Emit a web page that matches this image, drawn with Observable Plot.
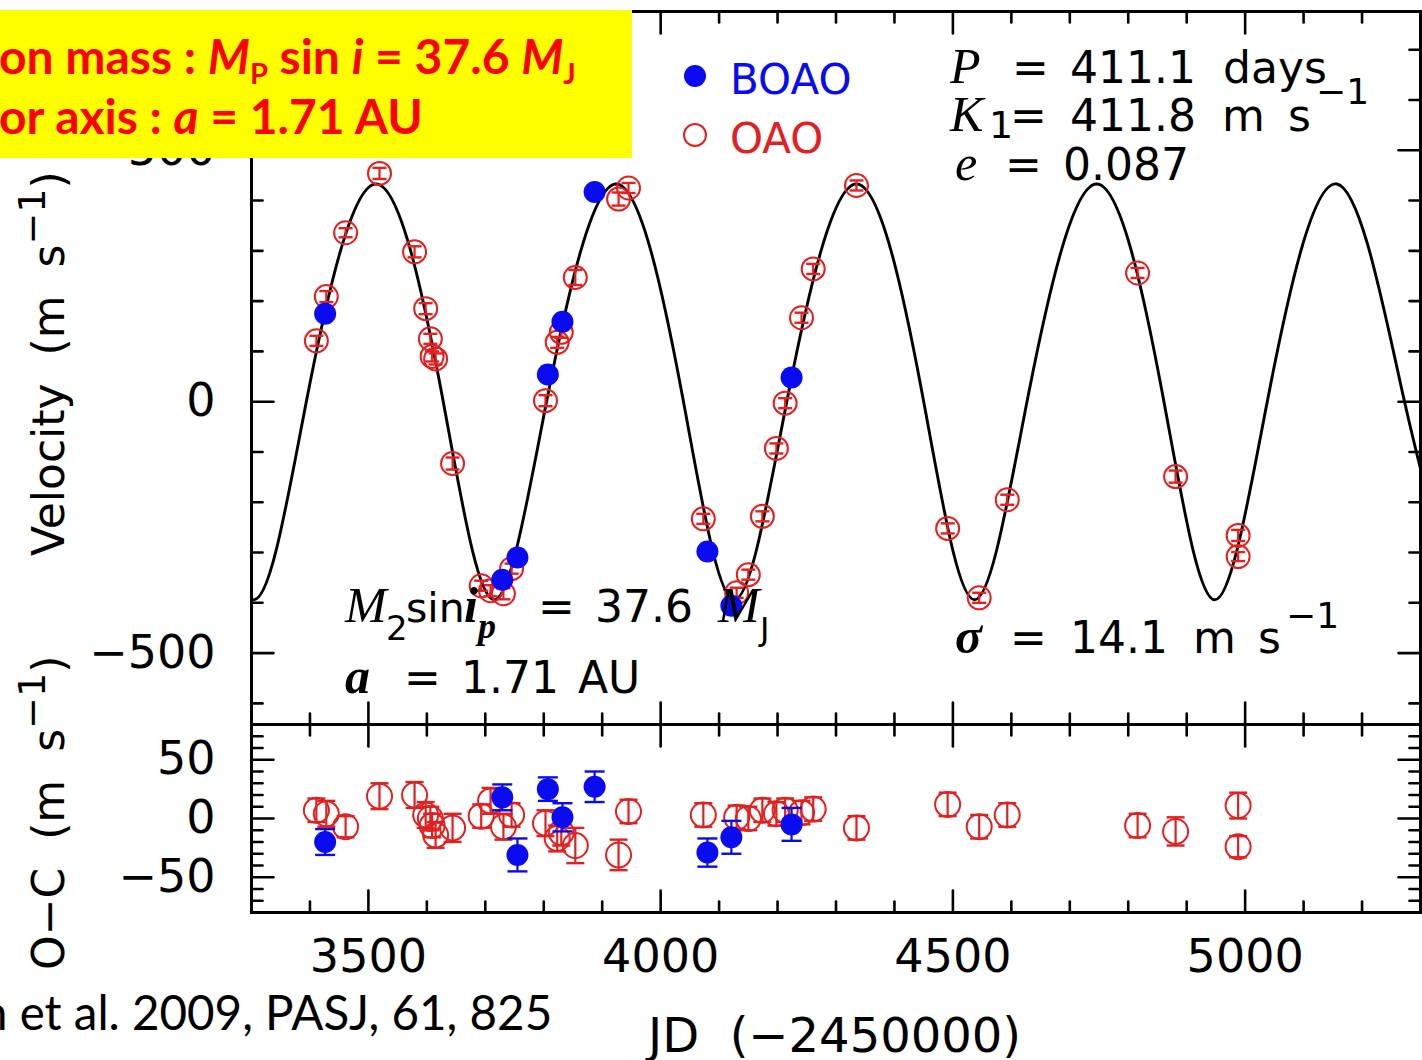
<!DOCTYPE html>
<html>
<head>
<meta charset="utf-8">
<script src="https://cdn.jsdelivr.net/npm/d3@7"></script>
<script src="https://cdn.jsdelivr.net/npm/@observablehq/plot@0.6"></script>
<style>
  html, body { margin: 0; padding: 0; background: #fff; }
  #wrap { position: relative; width: 1422px; height: 1060px; overflow: hidden; background: #fff; }
  #wrap > svg { position: absolute; left: 0; }
  .ann text { white-space: pre; }
</style>
</head>
<body>
<div id="wrap"></div>
<script>
// ---------------- data ----------------
// OAO (red open circles): JD-2450000, velocity, O-C residual, error (m/s)
const oaoJD  = [3411,3428,3461,3519,3579,3598,3606,3609,3615,3644,3693,3709,3731,3745,3803,3823,3830,3854,3928,3945,4073,4130,4150,4174,4198,4213,4241,4261,4335,4491,4545,4593,4816,4881,4988,4988];
const oaoRV  = [121,209,336,454,298,185,125,90,85,-123,-366,-376,-382,-332,2,118,138,247,403,425,-233,-380,-344,-228,-93,-3,167,264,430,-252,-390,-195,256,-149,-266,-308];
const oaoOC  = [7,4,-7,19,20,3,0,-6,-14,-8,2,15,-7,3,-4,-17,-12,-23,-31,6,3,1,0,7,4,7,5,8,-8,12,-7,3,-6,-11,11,-24];
const oaoErr = [10,11,9,11,11,11,10,10,11,12,10,11,11,10,11,11,11,15,13,10,10,10,10,10,10,10,10,10,10,10,10,10,10,12,11,9];

// BOAO (blue filled circles)
const boaoJD  = [3426,3729,3755,3807,3832,3887,4080,4121,4224];
const boaoRV  = [175,-354,-310,54,159,417,-298,-406,48];
const boaoOC  = [-20,18,-31,25,1,27,-29,-16,-5];
const boaoErr = [11,11,14,10,12,13,12,14,14];

// Orbital fit curve: extremes and mid-level crossings
const curveJD = [3214,3304,3397,3513,3625,3715,3808,3924,4036,4126,4219,4335,4447,4537,4630,4746,4858,4948,5041,5157,5269,5359];
const curveRV = [19,-394,19,433,19,-394,19,433,19,-394,19,433,19,-394,19,433,19,-394,19,433,19,-394];

// Axes
const xDomain = [3300, 5300];
const rvDomain = [-642, 776];
const ocDomain = [-80, 80];
const xMajor = [3500, 4000, 4500, 5000];
const xMinor = [3400,3600,3700,3800,3900,4100,4200,4300,4400,4600,4700,4800,4900,5100,5200];
const rvMajor = [-500, 0, 500];
const rvMinor = [-600,-400,-300,-200,-100,100,200,300,400,600,700];
const ocMajor = [-50, 0, 50];
const ocMinor = [-70,-60,-40,-30,-20,-10,10,20,30,40,60,70];

// ---------------- build ----------------
const RED = "#e3201f";
const BLUE = "#0b0bf2";
const AXFONT = "DejaVu Sans";

const oao = oaoJD.map((jd, i) => ({jd, v: oaoRV[i], oc: oaoOC[i], e: oaoErr[i]}));
const boao = boaoJD.map((jd, i) => ({jd, v: boaoRV[i], oc: boaoOC[i], e: boaoErr[i]}));
const curve = curveJD.map((jd, i) => ({jd, v: curveRV[i]}));

const capSymbol = {draw(ctx, size) { const w = Math.sqrt(size / Math.PI); ctx.moveTo(-w, 0); ctx.lineTo(w, 0); }};
const tickShape = {draw(ctx, l) { ctx.moveTo(0, 0); ctx.lineTo(0, -l); }};
const fmt = d => d < 0 ? "\u2212" + (-d) : String(d);

function frameTicks(xMaj, xMin, yMaj, yMin) {
  const T = (data, ch, anchor, rot, len) => Plot.vector(data, {
    [ch]: d => d, frameAnchor: anchor, rotate: rot, length: len, anchor: "start",
    shape: tickShape, stroke: "#000", strokeWidth: 2.6
  });
  return [
    T(xMaj, "x", "bottom", 0, 22), T(xMin, "x", "bottom", 0, 11),
    T(xMaj, "x", "top", 180, 22), T(xMin, "x", "top", 180, 11),
    T(yMaj, "y", "left", 90, 22), T(yMin, "y", "left", 90, 11),
    T(yMaj, "y", "right", -90, 22), T(yMin, "y", "right", -90, 11)
  ];
}

function pointMarks(data, yKey, capR, ringR) {
  const col = data === boao ? BLUE : RED;
  const y = d => d[yKey];
  return [
    Plot.ruleX(data, {x: "jd", y1: d => y(d) - d.e, y2: d => y(d) + d.e, stroke: col, strokeWidth: 2.2}),
    Plot.dot(data, {x: "jd", y: d => y(d) - d.e, symbol: capSymbol, r: capR, stroke: col, strokeWidth: 2.4, fill: "none"}),
    Plot.dot(data, {x: "jd", y: d => y(d) + d.e, symbol: capSymbol, r: capR, stroke: col, strokeWidth: 2.4, fill: "none"}),
    data === boao
      ? Plot.dot(data, {x: "jd", y: yKey, r: 11, fill: BLUE, stroke: "none"})
      : Plot.dot(data, {x: "jd", y: yKey, r: ringR, fill: "none", stroke: RED, strokeWidth: 2})
  ];
}

const topPlot = Plot.plot({
  width: 1422, height: 730,
  marginLeft: 251, marginRight: 2, marginTop: 11, marginBottom: 6,
  style: {background: "transparent", overflow: "visible"},
  x: {domain: xDomain, axis: null},
  y: {domain: rvDomain, axis: null},
  marks: [
    Plot.line(curve, {x: "jd", y: "v", curve: "natural", stroke: "#000", strokeWidth: 2.9, clip: true}),
    ...pointMarks(oao, "v", 7, 11.5),
    ...pointMarks(boao, "v", 7),
    Plot.frame({stroke: "#000", strokeWidth: 3}),
    ...frameTicks(xMajor, xMinor, rvMajor, rvMinor),
    Plot.axisY(rvMajor, {anchor: "left", label: null, tickSize: 0, tickPadding: 36, tickFormat: fmt, fontSize: 46, fontFamily: AXFONT, fill: "#000"})
  ]
});
topPlot.style.top = "0px";

const botPlot = Plot.plot({
  width: 1422, height: 292,
  marginLeft: 251, marginRight: 2, marginTop: 24, marginBottom: 80,
  style: {background: "transparent", overflow: "visible"},
  x: {domain: xDomain, axis: null},
  y: {domain: ocDomain, axis: null},
  marks: [
    ...pointMarks(oao, "oc", 9, 12.5),
    ...pointMarks(boao, "oc", 10),
    Plot.frame({stroke: "#000", strokeWidth: 3}),
    ...frameTicks(xMajor, xMinor, ocMajor, ocMinor),
    Plot.axisY(ocMajor, {anchor: "left", label: null, tickSize: 0, tickPadding: 36, tickFormat: fmt, fontSize: 46, fontFamily: AXFONT, fill: "#000"}),
    Plot.axisX(xMajor, {anchor: "bottom", label: null, tickSize: 0, tickPadding: 27, tickFormat: d => String(d), fontSize: 46, fontFamily: AXFONT, fill: "#000"})
  ]
});
botPlot.style.top = "700px";

const wrap = document.getElementById("wrap");
wrap.appendChild(topPlot);
wrap.appendChild(botPlot);

// ---------------- annotations overlay ----------------
const SERIF = "Liberation Serif";
const ann = `
<svg class="ann" width="1422" height="1060" style="position:absolute;left:0;top:0" xmlns="http://www.w3.org/2000/svg">
  <g font-family="${AXFONT}" font-size="44" fill="#000">
    <!-- axis titles -->
    <text transform="translate(64,556) rotate(-90)">Velocity  (m  s<tspan dy="-19" font-size="38">\u22121</tspan><tspan dy="19">)</tspan></text>
    <text transform="translate(64,970) rotate(-90)">O\u2212C  (m  s<tspan dy="-19" font-size="38">\u22121</tspan><tspan dy="19">)</tspan></text>
    <text x="648" y="1052" font-size="48">JD  (\u22122450000)</text>

    <!-- fit parameters -->
    <text x="950" y="83" font-family="${SERIF}" font-style="italic" font-size="50">P</text>
    <text x="1012" y="83">=</text>
    <text x="1070" y="83">411.1</text>
    <text x="1223" y="83">days</text>

    <text x="950" y="131" font-family="${SERIF}" font-style="italic" font-size="50">K</text>
    <text x="989" y="138" font-size="38">1</text>
    <text x="1010" y="131">=</text>
    <text x="1070" y="131">411.8</text>
    <text x="1222" y="131">m</text>
    <text x="1288" y="131">s</text>
    <text x="1316" y="104" font-size="36">\u22121</text>

    <text x="955" y="180" font-family="${SERIF}" font-style="italic" font-size="50">e</text>
    <text x="1005" y="180">=</text>
    <text x="1063" y="180">0.087</text>

    <text x="345" y="622" font-family="${SERIF}" font-style="italic" font-size="50">M</text>
    <text x="386" y="640" font-size="34">2</text>
    <text x="406" y="622" font-size="41">sin</text>
    <text x="464" y="622" font-family="${SERIF}" font-style="italic" font-weight="bold" font-size="50">i</text>
    <text x="478" y="638" font-family="${SERIF}" font-style="italic" font-weight="bold" font-size="36">p</text>
    <text x="538" y="622">=</text>
    <text x="595" y="622">37.6</text>
    <text x="718" y="622" font-family="${SERIF}" font-style="italic" font-size="50">M</text>
    <text x="760" y="640" font-size="32">J</text>

    <text x="345" y="693" font-family="${SERIF}" font-style="italic" font-weight="bold" font-size="50">a</text>
    <text x="404" y="693">=</text>
    <text x="461" y="693">1.71</text>
    <text x="578" y="693">AU</text>

    <text x="955" y="653" font-family="${SERIF}" font-style="italic" font-weight="bold" font-size="50">\u03c3</text>
    <text x="1010" y="653">=</text>
    <text x="1070" y="653">14.1</text>
    <text x="1193" y="653">m</text>
    <text x="1258" y="653">s</text>
    <text x="1286" y="628" font-size="36">\u22121</text>

    <!-- legend -->
    <circle cx="695" cy="76" r="11" fill="${BLUE}"/>
    <text x="730" y="94" font-size="42" fill="${BLUE}">BOAO</text>
    <circle cx="695" cy="135" r="11" fill="none" stroke="${RED}" stroke-width="2"/>
    <text x="730" y="153" font-size="42" fill="${RED}">OAO</text>
  </g>

  <!-- highlighted box -->
  <rect x="0" y="10" width="632" height="148" fill="#ffff00"/>
  <g font-family="Lato" font-weight="bold" font-size="48" fill="#ff0000">
    <text x="-1" y="74">on mass : <tspan font-style="italic">M</tspan><tspan font-size="29" dy="10">P</tspan><tspan dy="-10"> sin </tspan><tspan font-style="italic">i</tspan> = 37.6 <tspan font-style="italic">M</tspan><tspan font-size="29" dy="10">J</tspan></text>
    <text x="-1" y="134">or axis : <tspan font-style="italic">a</tspan> = 1.71 AU</text>
  </g>

  <!-- source caption -->
  <text x="-19" y="1030" font-family="Lato" font-size="47.5" fill="#000">n et al. 2009, PASJ, 61, 825</text>
</svg>`;
wrap.insertAdjacentHTML("beforeend", ann);
</script>
</body>
</html>
